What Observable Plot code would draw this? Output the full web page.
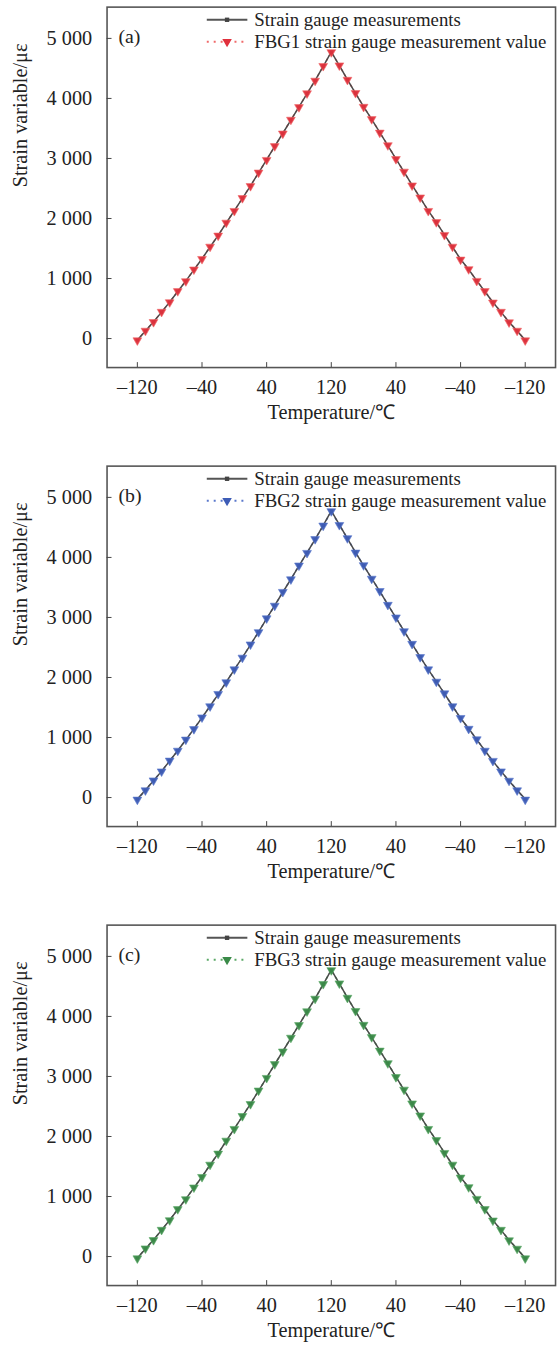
<!DOCTYPE html>
<html><head><meta charset="utf-8">
<script src="https://cdn.jsdelivr.net/npm/d3@7"></script>
<script src="https://cdn.jsdelivr.net/npm/@observablehq/plot@0.6"></script>
<style>
html,body{margin:0;padding:0;background:#fff;overflow:hidden;width:559px;height:1355px;}
.panel{width:559px;height:459px;overflow:hidden;}
.panel svg{display:block;}
</style></head><body>
<div id="wrap"></div>
<script>
// ---- data ----
const temperature = [-120,-110,-100,-90,-80,-70,-60,-50,-40,-30,-20,-10,0,10,20,30,40,50,60,70,80,90,100,110,120,
  110,100,90,80,70,60,50,40,30,20,10,0,-10,-20,-30,-40,-50,-60,-70,-80,-90,-100,-110,-120];
const xTickSteps = [0, 8, 16, 24, 32, 40, 48];
const yTicks = [0, 1000, 2000, 3000, 4000, 5000];
const strainGauge = [-25,125,280,440,610,785,960,1145,1330,1525,1720,1925,2130,2335,2545,2760,2980,3200,3420,3640,3860,4080,4300,4535,4775,
  4545,4315,4085,3865,3650,3435,3215,2995,2775,2555,2345,2130,1935,1730,1525,1320,1150,965,785,605,440,275,125,-25];
const fbg1 = [-30,130,275,445,605,790,955,1150,1325,1530,1715,1930,2125,2340,2540,2765,2975,3205,3415,3645,3855,4085,4295,4540,4770,
  4550,4310,4090,3860,3655,3430,3220,2990,2780,2550,2350,2125,1940,1725,1530,1315,1155,960,790,600,445,270,130,-30];
const fbg2 = [-35,120,285,435,615,780,965,1140,1335,1520,1725,1920,2135,2330,2550,2755,2985,3195,3425,3635,3865,4075,4305,4530,4770,
  4540,4320,4080,3870,3645,3440,3210,3000,2770,2560,2340,2135,1930,1735,1520,1325,1145,970,780,610,435,280,120,-35];
const fbg3 = [-30,135,275,445,605,790,955,1150,1325,1530,1715,1930,2125,2340,2540,2765,2975,3205,3415,3645,3855,4085,4295,4540,4770,
  4550,4310,4090,3860,3655,3430,3220,2990,2780,2550,2350,2125,1940,1725,1530,1315,1155,960,790,600,445,270,130,-30];
const panelLabels = ["(a)", "(b)", "(c)"];
const fbgNames = ["FBG1 strain gauge measurement value", "FBG2 strain gauge measurement value", "FBG3 strain gauge measurement value"];
const fbgSeries = [fbg1, fbg2, fbg3];
const fbgColors = ["#e0303c", "#3d5cb6", "#3a8a48"];
const fbgLineColors = ["#f06a6a", "#5a78cc", "#5aa866"];
const gaugeName = "Strain gauge measurements";
const xTitle = "Temperature/\u2103";
const yTitle = "Strain variable/\u03bc\u03b5";

const FONT = "'Liberation Serif','Times New Roman',serif";
const fmtTemp = t => (t < 0 ? "\u2013" + Math.abs(t) : String(t));
const fmtStrain = v => v >= 1000 ? Math.floor(v / 1000) + " " + String(v % 1000).padStart(3, "0") : String(v);

const wrap = document.getElementById("wrap");

fbgSeries.forEach((fbg, k) => {
  const rows = temperature.map((t, i) => ({step: i, temp: t, gauge: strainGauge[i], fbg: fbg[i]}));
  const chart = Plot.plot({
    width: 565, height: 459,
    marginLeft: 107.7, marginRight: 4, marginTop: 6.7, marginBottom: 88,
    style: {fontFamily: FONT, fontSize: "20.5px", color: "#222", background: "white"},
    x: {domain: [-3.75, 51.75]},
    y: {domain: [-483, 5521]},
    marks: [
      Plot.frame({stroke: "#555", strokeWidth: 1.6}),
      Plot.axisY({ticks: yTicks, tickSize: -5, tickFormat: () => "", label: null, stroke: "#444"}),
      Plot.axisY({ticks: yTicks, tickSize: 0, tickPadding: 15, tickFormat: fmtStrain, label: null, fill: "#222"}),
      Plot.axisX({ticks: xTickSteps, tickSize: -5, tickFormat: () => "", label: null, stroke: "#444"}),
      Plot.axisX({ticks: xTickSteps, tickSize: 0, tickPadding: 12, tickFormat: i => fmtTemp(temperature[i]), label: null, fill: "#222"}),
      Plot.line(rows, {x: "step", y: "fbg", stroke: fbgLineColors[k], strokeWidth: 1.6, strokeDasharray: "2,4"}),
      Plot.line(rows, {x: "step", y: "gauge", stroke: "#4a4a4a", strokeWidth: 1.5}),
      Plot.dot(rows, {x: "step", y: "gauge", symbol: "square", r: 1.8, fill: "#4a4a4a"}),
      Plot.dot(rows, {x: "step", y: "fbg", symbol: "triangle", rotate: 180, r: 3.3, fill: fbgColors[k], stroke: fbgLineColors[k], strokeWidth: 0.6, fillOpacity: 0.95}),
      Plot.text([panelLabels[k]], {frameAnchor: "top-left", dx: 11.5, dy: 22, textAnchor: "start", fontSize: 20, fill: "#222"}),
      Plot.text([yTitle], {frameAnchor: "left", rotate: -90, dx: -87, fontSize: 20.5, fill: "#222"}),
      Plot.text([xTitle], {frameAnchor: "bottom", dy: 52, fontSize: 20.5, fill: "#222"})
    ]
  });
  // legend inside the plot, top
  const svg = d3.select(chart);
  const g = svg.append("g").attr("font-family", FONT).attr("font-size", 19).attr("fill", "#222").attr("text-anchor", "start");
  const y1 = 20, y2 = 42.3, xa = 209, xb = 250, xm = 229.5, xt = 257;
  g.append("line").attr("x1", xa).attr("x2", xb).attr("y1", y1).attr("y2", y1).attr("stroke", "#555").attr("stroke-width", 2);
  g.append("rect").attr("x", xm - 2.2).attr("y", y1 - 2.2).attr("width", 4.4).attr("height", 4.4).attr("fill", "#444");
  g.append("text").attr("x", xt).attr("y", y1).attr("dy", "0.32em").attr("text-anchor", "start").text(gaugeName);
  g.append("line").attr("x1", xa).attr("x2", xb).attr("y1", y2).attr("y2", y2).attr("stroke", fbgLineColors[k]).attr("stroke-width", 2).attr("stroke-dasharray", "2,5");
  g.append("path").attr("d", d3.symbol(d3.symbolTriangle, 40)()).attr("transform", `translate(${xm},${y2}) rotate(180)`).attr("fill", fbgColors[k]);
  g.append("text").attr("x", xt).attr("y", y2).attr("dy", "0.32em").attr("text-anchor", "start").text(fbgNames[k]);

  const div = document.createElement("div");
  div.className = "panel";
  div.appendChild(chart);
  wrap.appendChild(div);
});
</script></body></html>
